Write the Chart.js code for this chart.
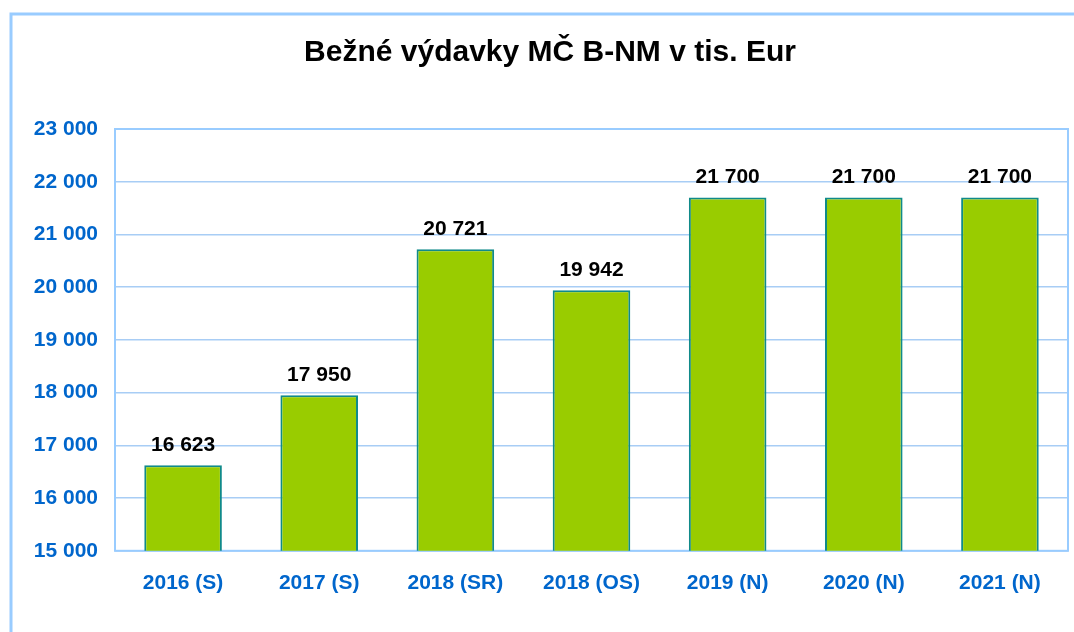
<!DOCTYPE html>
<html>
<head>
<meta charset="utf-8">
<script src="https://cdn.jsdelivr.net/npm/chart.js@4.4.1/dist/chart.umd.min.js"></script>
<style>
    html, body { margin: 0; padding: 0; background: #fff; }
    #wrap { width: 1074px; height: 632px; }
</style>
</head>
<body>
<div id="wrap"><canvas id="barchart" width="1074" height="632"></canvas></div>
<script>
const categories = ['2016 (S)', '2017 (S)', '2018 (SR)', '2018 (OS)', '2019 (N)', '2020 (N)', '2021 (N)'];
const spending = [16623, 17950, 20721, 19942, 21700, 21700, 21700];
const yMin = 15000;
const yMax = 23000;
const yStep = 1000;

function spaced(n) {
    return String(Math.round(n)).replace(/\B(?=(\d{3})+(?!\d))/g, ' ');
}

// outer box (only top and left edges are inside the picture) + frame round the plot
const framePlugin = {
    id: 'frame',
    beforeDraw(chart) {
        const c = chart.ctx;
        c.save();
        c.strokeStyle = '#99ccff';
        c.lineWidth = 3;
        c.beginPath();
        c.moveTo(11, 640);
        c.lineTo(11, 14);
        c.lineTo(1080, 14);
        c.stroke();
        c.restore();
    },
    beforeDatasetsDraw(chart) {
        const a = chart.chartArea;
        const c = chart.ctx;
        c.save();
        c.strokeStyle = '#99ccff';
        c.lineWidth = 2;
        c.strokeRect(a.left, a.top, a.right - a.left, a.bottom - a.top);
        c.restore();
    }
};

// value labels over the bars
const valueLabels = {
    id: 'valueLabels',
    afterDatasetsDraw(chart) {
        const c = chart.ctx;
        const meta = chart.getDatasetMeta(0);
        c.save();
        c.font = 'bold 21px "Liberation Sans", Arial, sans-serif';
        c.fillStyle = '#000';
        c.textAlign = 'center';
        c.textBaseline = 'middle';
        meta.data.forEach((bar, i) => {
            c.fillText(spaced(spending[i]), bar.x, bar.y - 20);
        });
        c.restore();
    }
};

const ctx = document.getElementById('barchart').getContext('2d');
new Chart(ctx, {
    type: 'bar',
    data: {
        labels: categories,
        datasets: [{
            data: spending,
            backgroundColor: '#99cc00',
            borderColor: '#108a8a',
            borderWidth: 2,
            barPercentage: 0.57,
            categoryPercentage: 1
        }]
    },
    options: {
        responsive: false,
        animation: false,
        layout: { padding: { left: 32, right: 6, top: 0, bottom: 16 } },
        plugins: {
            legend: { display: false },
            tooltip: { enabled: false },
            title: {
                display: true,
                text: 'Bežné výdavky MČ B-NM v tis. Eur',
                color: '#000',
                font: { family: '"Liberation Sans", Arial, sans-serif', size: 30, weight: 'bold', lineHeight: 1.2 },
                padding: { top: 35, bottom: 58 }
            }
        },
        scales: {
            x: {
                grid: { display: false, drawTicks: false },
                border: { display: false },
                ticks: {
                    color: '#0066cc',
                    padding: 20,
                    font: { family: '"Liberation Sans", Arial, sans-serif', size: 21, weight: 'bold' }
                }
            },
            y: {
                min: yMin,
                max: yMax,
                afterFit(scale) { scale.width = 83; },
                grid: { color: '#a8cdf5', lineWidth: 1.5, drawTicks: false },
                border: { display: false },
                ticks: {
                    stepSize: yStep,
                    color: '#0066cc',
                    padding: 17,
                    font: { family: '"Liberation Sans", Arial, sans-serif', size: 21, weight: 'bold' },
                    callback: v => spaced(v)
                }
            }
        }
    },
    plugins: [framePlugin, valueLabels]
});
</script>
</body>
</html>
